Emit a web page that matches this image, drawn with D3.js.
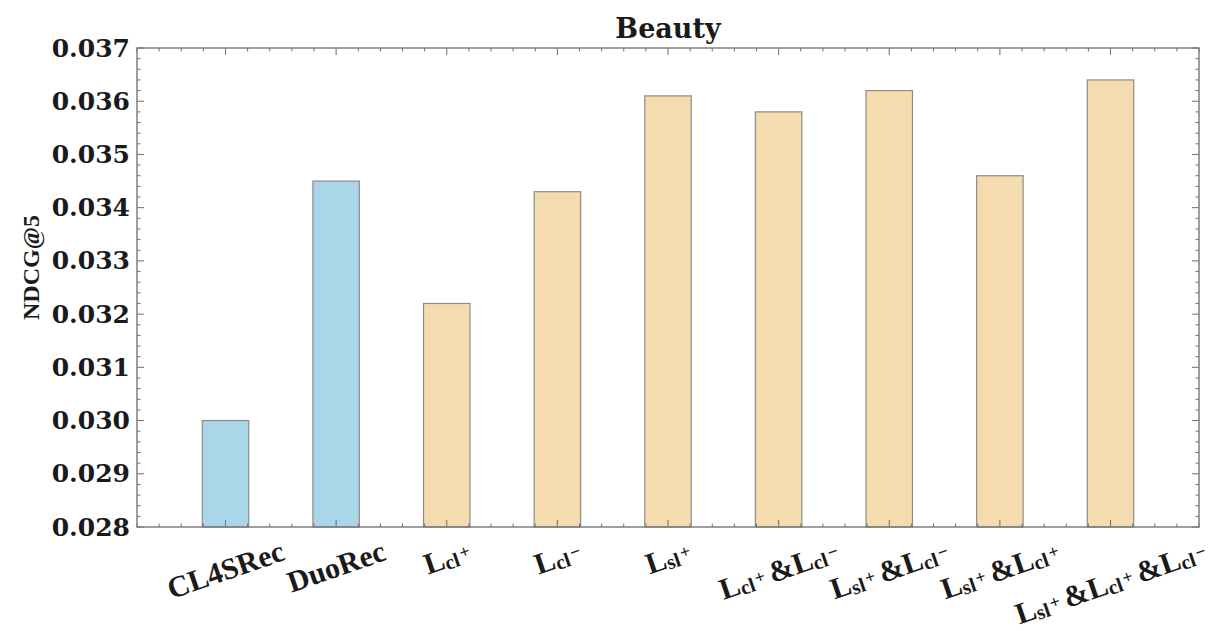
<!DOCTYPE html>
<html>
<head>
<meta charset="utf-8">
<script src="https://cdn.jsdelivr.net/npm/d3@7"></script>
<style>
  html, body { margin: 0; padding: 0; background: #fff; }
  svg { display: block; }
</style>
</head>
<body>
<svg id="chart" width="1225" height="631"></svg>
<script>
// Ablation results on the Beauty dataset (NDCG@5)
const categories = [
  "CL4SRec", "DuoRec", "L_cl^+", "L_cl^−", "L_sl^+",
  "L_cl^+&L_cl^−", "L_sl^+&L_cl^−", "L_sl^+&L_cl^+", "L_sl^+&L_cl^+&L_cl^−"
];
const ndcgValues = [0.0300, 0.0345, 0.0322, 0.0343, 0.0361, 0.0358, 0.0362, 0.0346, 0.0364];
const groups = ["baseline", "baseline", "variant", "variant", "variant", "variant", "variant", "variant", "variant"];
const yTickValues = [0.028, 0.029, 0.030, 0.031, 0.032, 0.033, 0.034, 0.035, 0.036, 0.037];
const chartTitle = "Beauty";
const yAxisTitle = "NDCG@5";

const W = 1225, H = 631;
const plot = { left: 137, right: 1199, top: 48, bottom: 527 };
const svg = d3.select("#chart");

const x = d3.scaleLinear().domain([-0.8, categories.length - 0.2]).range([plot.left, plot.right]);
const y = d3.scaleLinear().domain([0.028, 0.037]).range([plot.bottom, plot.top]);
const fill = d3.scaleOrdinal().domain(["baseline", "variant"]).range(["#a9d6e8", "#f5dcae"]);
const barWidth = 0.42;

const tickColor = "#6f6f6f";
const serifBold = "'DejaVu Serif', serif";
const timesBold = "'Liberation Serif', 'Times New Roman', serif";

// bars
svg.append("g").selectAll("rect")
  .data(ndcgValues)
  .join("rect")
  .attr("x", (d, i) => x(i - barWidth / 2))
  .attr("width", (d, i) => x(i + barWidth / 2) - x(i - barWidth / 2))
  .attr("y", d => y(d))
  .attr("height", d => y(0.028) - y(d))
  .attr("fill", (d, i) => fill(groups[i]))
  .attr("stroke", "#8c8c8c")
  .attr("stroke-width", 1.2);

// inward ticks on all four sides
const majorLen = 7, minorLen = 3.5;
const xMajor = d3.range(categories.length);
const xMinor = d3.range(-0.8, categories.length - 0.1, 0.2)
  .map(v => +v.toFixed(2)).filter(v => Math.abs(v - Math.round(v)) > 1e-6);
const yMinor = d3.range(0.028, 0.03701, 0.0002)
  .map(v => +v.toFixed(4)).filter(v => !yTickValues.some(t => Math.abs(t - v) < 1e-7));

const ticks = svg.append("g").attr("stroke", tickColor).attr("stroke-width", 1);
function vTicks(vals, len) {
  vals.forEach(v => {
    const px = x(v);
    ticks.append("line").attr("x1", px).attr("x2", px).attr("y1", plot.bottom).attr("y2", plot.bottom - len);
    ticks.append("line").attr("x1", px).attr("x2", px).attr("y1", plot.top).attr("y2", plot.top + len);
  });
}
function hTicks(vals, len) {
  vals.forEach(v => {
    const py = y(v);
    ticks.append("line").attr("y1", py).attr("y2", py).attr("x1", plot.left).attr("x2", plot.left + len);
    ticks.append("line").attr("y1", py).attr("y2", py).attr("x1", plot.right).attr("x2", plot.right - len);
  });
}
vTicks(xMajor, majorLen);
vTicks(xMinor, minorLen);
hTicks(yTickValues, majorLen);
hTicks(yMinor, minorLen);

// frame
svg.append("rect")
  .attr("x", plot.left).attr("y", plot.top)
  .attr("width", plot.right - plot.left).attr("height", plot.bottom - plot.top)
  .attr("fill", "none").attr("stroke", "#777").attr("stroke-width", 1.4);

// y tick labels
const yAxis = d3.axisLeft(y).tickValues(yTickValues).tickFormat(d3.format(".3f")).tickSize(0).tickPadding(7);
const yg = svg.append("g").attr("transform", `translate(${plot.left},0)`).call(yAxis);
yg.select(".domain").remove();
yg.selectAll("text")
  .attr("font-family", serifBold).attr("font-weight", "bold")
  .attr("font-size", 25).attr("fill", "#1a1a1a");

// y axis title
svg.append("text")
  .attr("transform", `translate(39,${(plot.top + plot.bottom) / 2 - 20}) rotate(-90)`)
  .attr("text-anchor", "middle")
  .attr("font-family", timesBold).attr("font-weight", "bold")
  .attr("font-size", 24).attr("fill", "#1a1a1a")
  .text(yAxisTitle);

// title
svg.append("text")
  .attr("x", (plot.left + plot.right) / 2).attr("y", 38)
  .attr("text-anchor", "middle")
  .attr("font-family", serifBold).attr("font-weight", "bold")
  .attr("font-size", 27).attr("fill", "#1a1a1a")
  .text(chartTitle);

// rotated category labels; "L_ab^s" is drawn as L with a subscript and a small sign
const labelSize = 30;
const labelAngle = -19;
function parseLabel(s) {
  const parts = [];
  const re = /L_(\w+)\^([+−])/g;
  let last = 0, m;
  while ((m = re.exec(s)) !== null) {
    if (m.index > last) parts.push({ t: s.slice(last, m.index), k: "main" });
    parts.push({ t: "L", k: "main" });
    parts.push({ t: m[1], k: "sub" });
    parts.push({ t: m[2], k: "sup" });
    last = re.lastIndex;
  }
  if (last < s.length) parts.push({ t: s.slice(last), k: "main" });
  return parts;
}

const labelG = svg.append("g");
categories.forEach((cat, i) => {
  const g = labelG.append("g");
  const t = g.append("text")
    .attr("font-family", timesBold).attr("font-weight", "bold")
    .attr("font-size", labelSize).attr("fill", "#1a1a1a");
  let shift = 0;
  parseLabel(cat).forEach(p => {
    const ts = t.append("tspan").text(p.t);
    let target = 0;
    if (p.k === "sub") { ts.attr("font-size", labelSize * 0.68); target = 2; }
    else if (p.k === "sup") { ts.attr("font-size", labelSize * 0.6); target = -4; ts.attr("dx", 2); }
    else if (p.t === "&") { ts.attr("dx", 5); }
    if (target !== shift) { ts.attr("dy", target - shift); shift = target; }
  });
  const bb = t.node().getBBox();
  const a = Math.abs(labelAngle) * Math.PI / 180;
  const rotH = bb.width * Math.sin(a) + bb.height * Math.cos(a);
  const cx = bb.x + bb.width / 2, cy = bb.y + bb.height / 2;
  const px = x(i), py = 534 + rotH / 2;
  g.attr("transform", `translate(${px},${py}) rotate(${labelAngle}) translate(${-cx},${-cy})`);
});
</script>
</body>
</html>
